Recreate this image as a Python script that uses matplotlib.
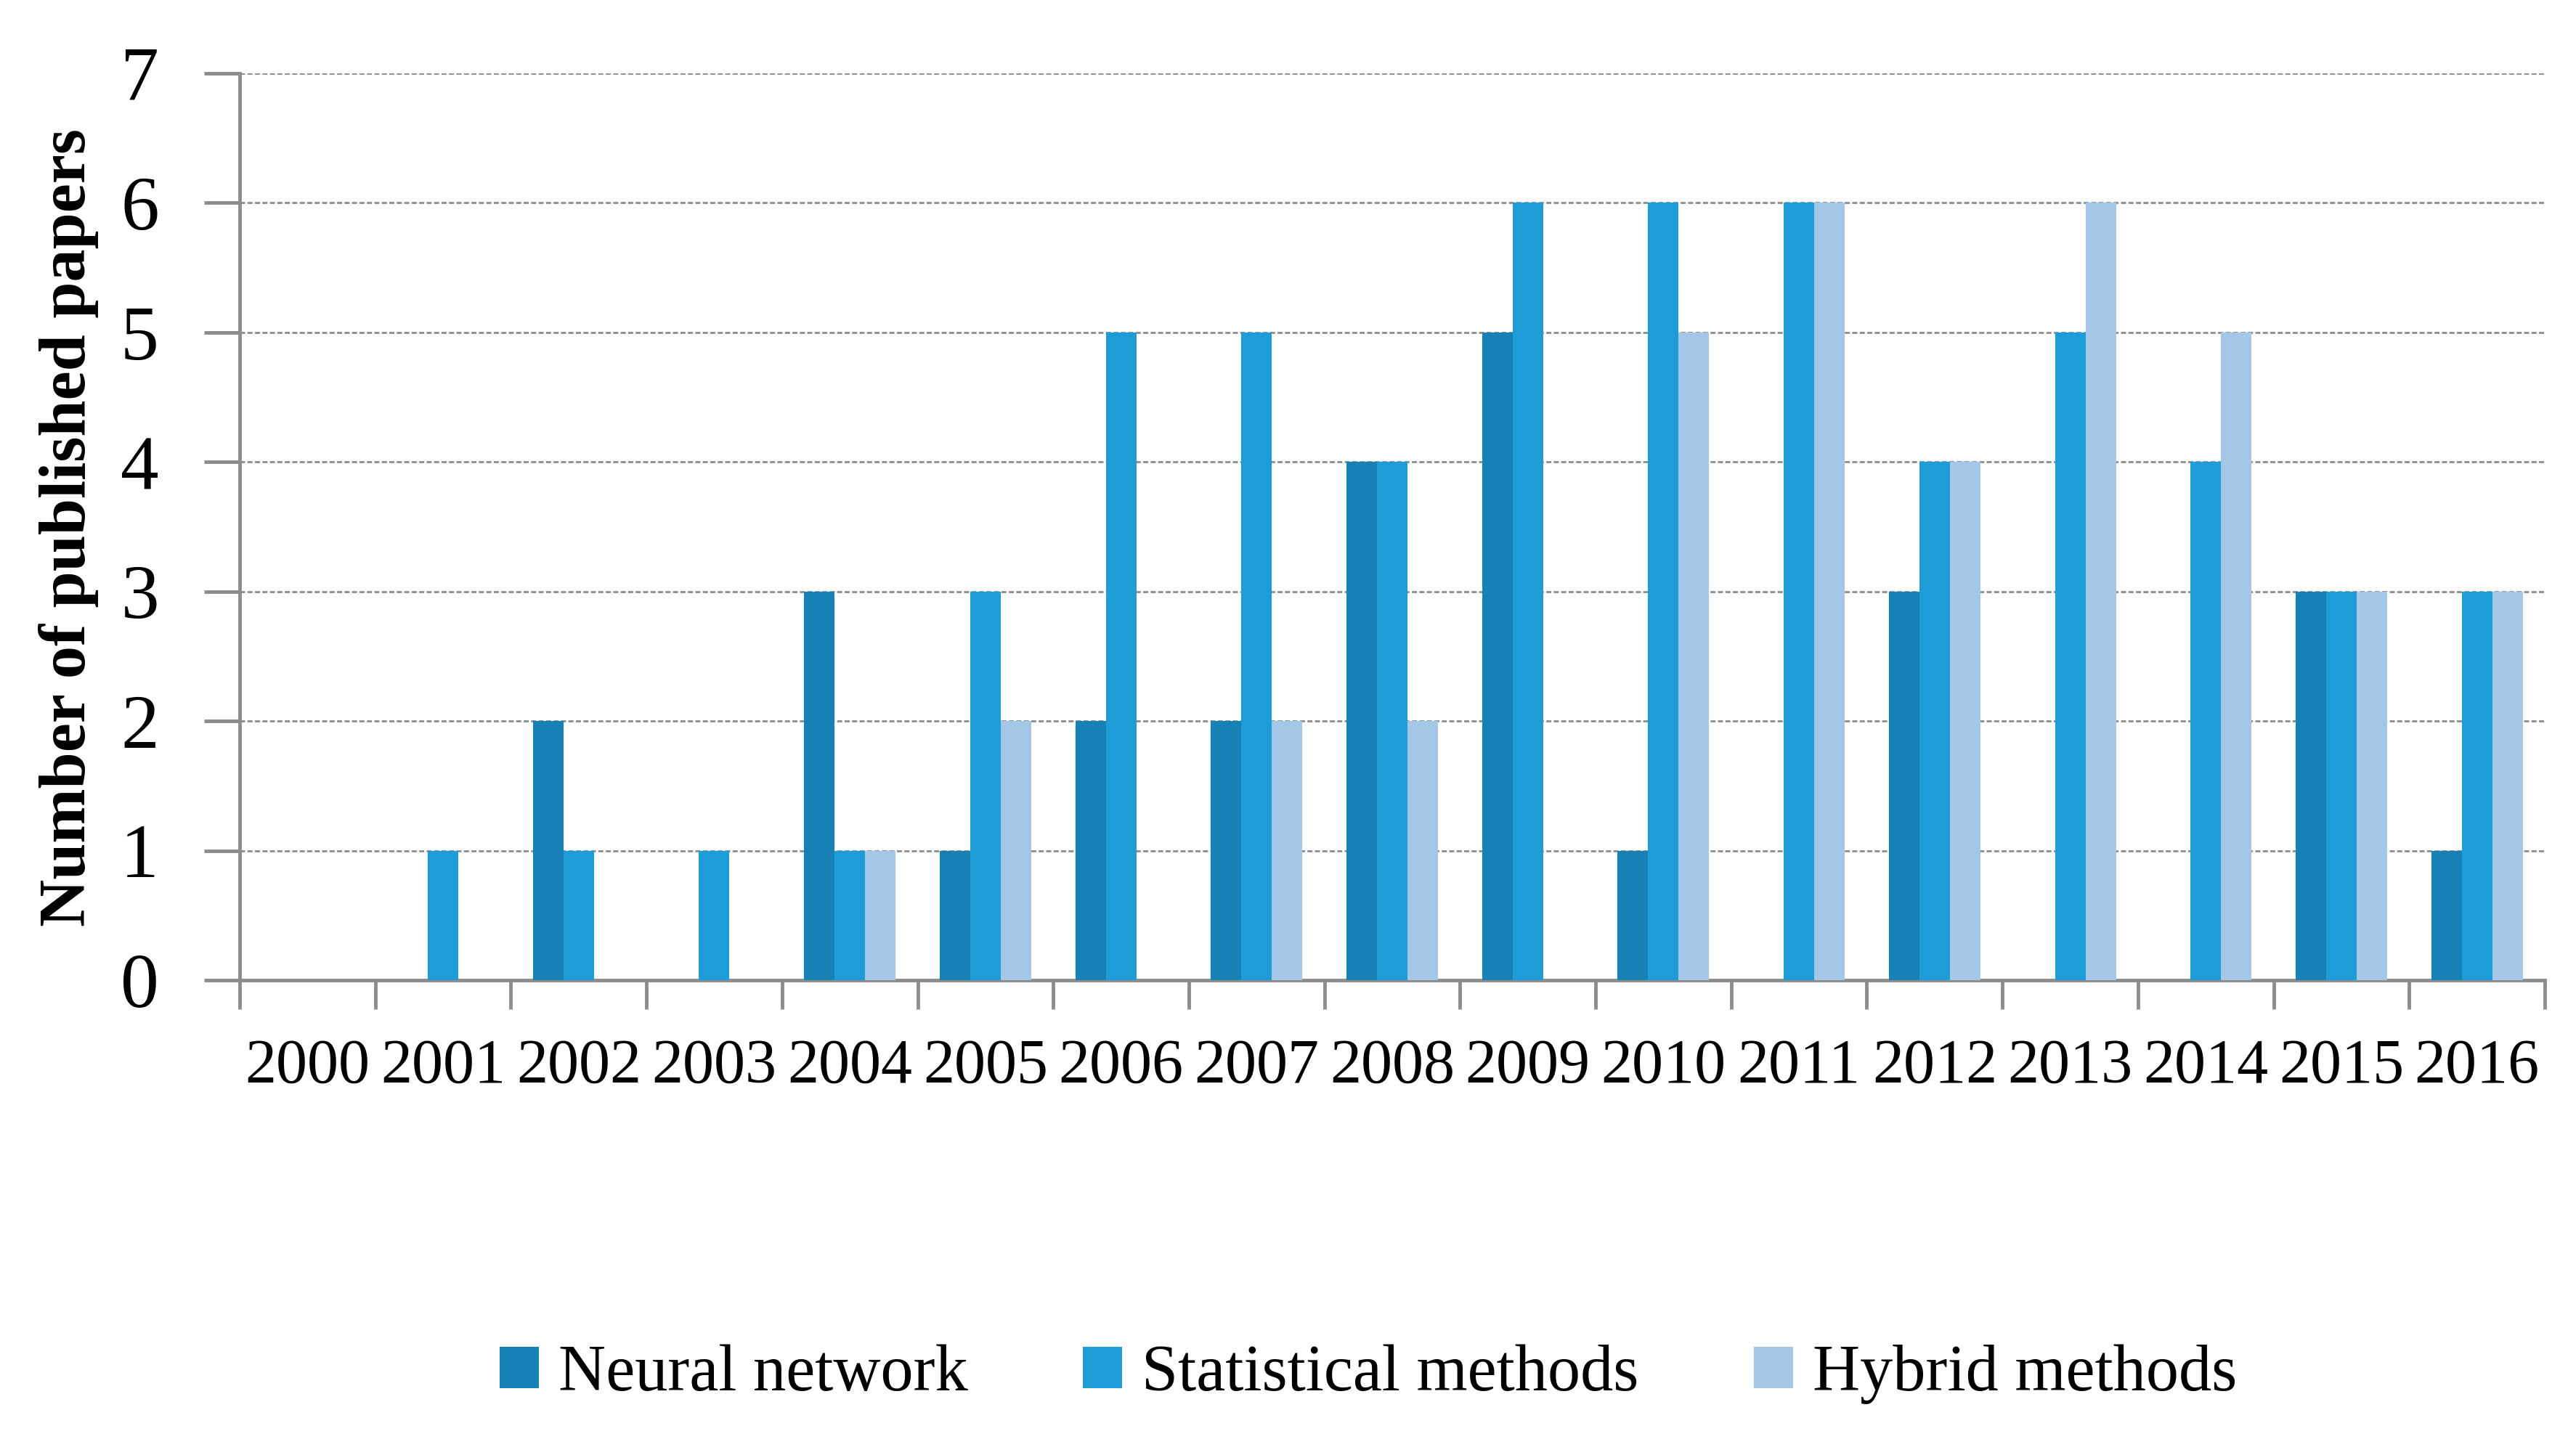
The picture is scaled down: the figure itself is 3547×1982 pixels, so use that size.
import matplotlib
matplotlib.use("Agg")
import matplotlib.pyplot as plt
import numpy as np

years = [str(y) for y in range(2000, 2017)]
neural = [0, 0, 2, 0, 3, 1, 2, 2, 4, 5, 1, 0, 3, 0, 0, 3, 1]
statistical = [0, 1, 1, 1, 1, 3, 5, 5, 4, 6, 6, 6, 4, 5, 4, 3, 3]
hybrid = [0, 0, 0, 0, 1, 2, 0, 2, 2, 0, 5, 6, 4, 6, 5, 3, 3]
series_names = ["Neural network", "Statistical methods", "Hybrid methods"]
colors = ["#1780B4", "#1E9CD8", "#A5C7E7"]

plt.rcParams['font.family'] = ['Liberation Serif', 'DejaVu Serif']
grey = "#8C8C8C"

fig = plt.figure(figsize=(35.48, 19.82), dpi=100)
ax = fig.add_axes([330 / 3548, 1 - 1350 / 1982, 3174 / 3548, 1249 / 1982])

x = np.arange(len(years))
w = 0.225
for i, (vals, name, c) in enumerate(zip([neural, statistical, hybrid], series_names, colors)):
    ax.bar(x + (i - 1) * w, vals, width=w, color=c, label=name, zorder=3)

ax.set_xlim(-0.5, len(years) - 0.5)
ax.set_ylim(0, 7)
ax.set_yticks(range(0, 8))
ax.tick_params(axis='y', labelsize=76, length=35, width=3.5, color=grey, pad=45)
ax.yaxis.grid(True, color=grey, linestyle=(0, (2.5, 1.2)), linewidth=2, zorder=0)

# boundary ticks (major, no labels) and year labels (minor, no tick marks)
ax.set_xticks(np.arange(-0.5, len(years)))
ax.set_xticklabels([])
ax.set_xticks(x, minor=True)
ax.set_xticklabels(years, minor=True)
ax.tick_params(axis='x', which='major', length=29, width=3.5, color=grey)
ax.tick_params(axis='x', which='minor', length=0, labelsize=62, pad=58)

for s in ['top', 'right']:
    ax.spines[s].set_visible(False)
for s in ['left', 'bottom']:
    ax.spines[s].set_color(grey)
    ax.spines[s].set_linewidth(3.5)

fig.text(95 / 3548, 1 - 727 / 1982, "Number of published papers", rotation=90,
         ha='center', va='center', fontsize=65, fontweight='bold')

fig.legend(loc='center', bbox_to_anchor=(0.531, 1 - 1893 / 1982), ncol=3,
           frameon=False, fontsize=65, handlelength=0.6, handleheight=0.6,
           handletextpad=0.3, columnspacing=1.75)

fig.savefig("out.png", dpi=100)
